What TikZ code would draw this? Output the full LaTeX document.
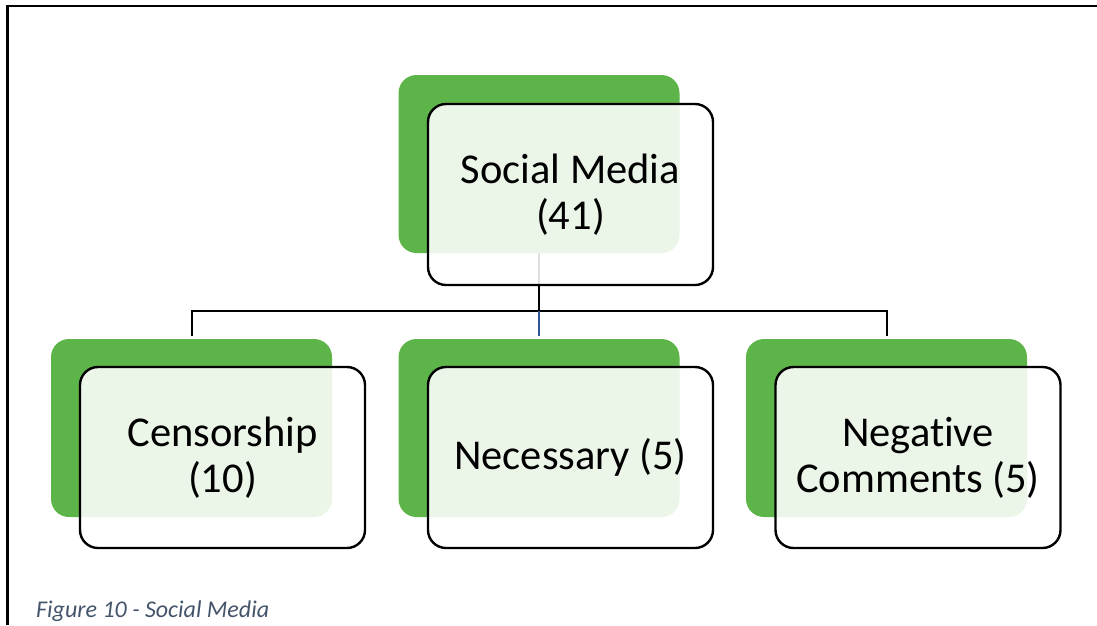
\documentclass[tikz,border=0pt]{standalone}
\usepackage{fontspec}
\setmainfont[Ligatures=NoCommon]{Carlito}
\begin{document}
\definecolor{leafgreen}{RGB}{93,180,73}
\definecolor{linkblue}{RGB}{47,85,151}
\definecolor{captiongray}{RGB}{68,84,106}
\begin{tikzpicture}[x=1pt,y=-1pt,
  backcard/.style={rectangle,rounded corners=18pt,fill=leafgreen,draw=none,
    minimum width=281pt,minimum height=178pt,inner sep=0pt,outer sep=0pt},
  frontcard/.style={rectangle,rounded corners=18pt,draw=black,line width=2.4pt,
    fill=white,fill opacity=0.88,text opacity=1,
    minimum width=285pt,minimum height=181pt,inner sep=0pt,outer sep=0pt,
    align=center,font=\fontsize{42.5}{46}\selectfont},
  link/.style={draw=black,line width=2pt},
  frameline/.style={draw=black,line width=2.6pt}]
\useasboundingbox (0,0) rectangle (1097,625);
% outer frame (top and left edges)
\coordinate (fTL) at (7.5,5.8);
\coordinate (fTR) at (1097,5.8);
\coordinate (fBL) at (7.5,625);
\draw[frameline] (fBL) -- (fTL) -- (fTR);
% green back cards
\node[backcard] (g0) at (539,164) {};
\node[backcard] (g1) at (191.5,428) {};
\node[backcard] (g2) at (539,428) {};
\node[backcard] (g3) at (886.5,428) {};
% connectors
\coordinate (bar) at (539,311);
\draw[link] (g0.south) -- (bar);
\draw[link] (bar) -| ([yshift=3pt]g1.north);
\draw[link] (bar) -| ([yshift=3pt]g3.north);
\draw[draw=linkblue,line width=2pt] (bar) -- ([yshift=3pt]g2.north);
% front cards with labels
\node[frontcard] (c0) at (570.5,194.5) {Social Media\\(41)};
\node[frontcard] (c1) at (222.5,457.5) {Censorship\\(10)};
\node[frontcard] (c2) at (570.5,457.5) {Necessary (5)};
\node[frontcard] (c3) at (918,457.5) {Negative\\Comments (5)};
% caption
\node[anchor=base west,inner sep=0pt,text=captiongray,
  font=\fontsize{24}{28}\selectfont\itshape] (cap) at (36,617) {Figure 10 - Social Media};
\end{tikzpicture}
\end{document}
